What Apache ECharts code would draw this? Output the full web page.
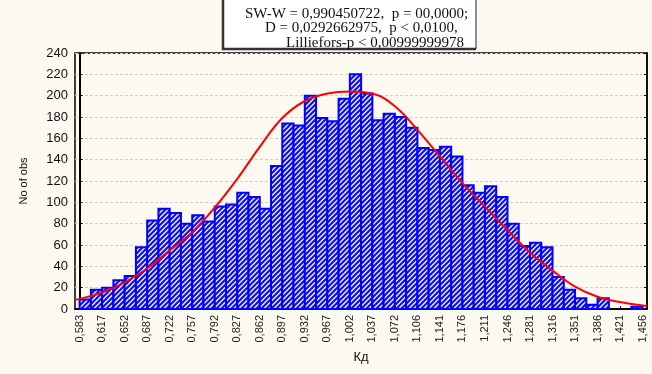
<!DOCTYPE html>
<html><head><meta charset="utf-8">
<script src="https://cdn.jsdelivr.net/npm/echarts@6/dist/echarts.min.js"></script>
<style>html,body{margin:0;padding:0;background:#fcf9f0}#c{width:652px;height:374px}</style>
</head><body><div id="c"></div>
<script>
// bin-edge tick labels (every second bin edge)
const tickLabels = ['0,583','0,617','0,652','0,687','0,722','0,757','0,792','0,827','0,862','0,897','0,932','0,967','1,002','1,037','1,072','1,106','1,141','1,176','1,211','1,246','1,281','1,316','1,351','1,386','1,421','1,456'];
// histogram counts for the 50 bins
const counts = [9,18,20,27,31,58,83,94,90,80,88,82,96,98,109,105,94,134,174,172,200,179,176,197,220,202,177,183,180,170,151,149,152,143,116,109,115,105,80,59,62,58,30,18,10,4,10,0,0,2];
// expected normal curve (x in bin-edge index units)
const curveX = [-0.41,0,2,4,6,8,10,12,14,16,18,20,22,24,26,28,30,32,34,36,38,40,42,44,46,48,50,50.39];
const curveY = [8.7,9.5,15.5,25,38,55,72,95,122,152,179,195,202,204,202,190,168,143,118,96,74,53,36,21,11.5,6.5,3.3,2.8];
const statLines = ['SW-W = 0,990450722,  p = 00,0000;','D = 0,0292662975,  p < 0,0100,','Lilliefors-p < 0,00999999978'];

const pc = document.createElement('canvas'); pc.width = 5; pc.height = 5;
const g = pc.getContext('2d');
g.fillStyle = '#f4f4ff'; g.fillRect(0,0,5,5);
g.strokeStyle = '#0a0aff'; g.lineWidth = 2.1;
g.beginPath(); g.moveTo(-1,6); g.lineTo(6,-1); g.stroke();
g.beginPath(); g.moveTo(-1,1); g.lineTo(1,-1); g.stroke();
g.beginPath(); g.moveTo(4,6); g.lineTo(6,4); g.stroke();
const hatch = {image: pc, repeat: 'repeat'};

const chart = echarts.init(document.getElementById('c'), null, {renderer:'canvas'});
const font = '"Liberation Sans", Arial, sans-serif';
const labelIdx = tickLabels.map((_, i) => i * 2);

chart.setOption({
  backgroundColor: '#fcf9f0',
  animation: false,
  grid: {left: 75, right: 5, top: 53, bottom: 65, show: true, borderColor: '#000', borderWidth: 1.5, backgroundColor: '#fcf9f0'},
  xAxis: {
    type: 'value', min: -0.41, max: 50.39,
    name: 'Кд', nameLocation: 'middle', nameGap: 41,
    nameTextStyle: {fontFamily: font, fontSize: 13, color: '#111'},
    axisLine: {lineStyle: {color: '#000', width: 2}},
    axisTick: {customValues: labelIdx, inside: true, length: 3, lineStyle: {color: '#000'}},
    axisLabel: {customValues: labelIdx, rotate: 90, fontFamily: font, fontSize: 11, color: '#222', margin: 6,
      formatter: v => tickLabels[Math.round(v / 2)]},
    splitLine: {show: false}
  },
  yAxis: [{
    type: 'value', min: 0, max: 240, interval: 20,
    name: 'No of obs', nameLocation: 'middle', nameGap: 46, nameRotate: 90,
    nameTextStyle: {fontFamily: font, fontSize: 11, color: '#111'},
    axisLine: {show: true, lineStyle: {color: '#000', width: 2}},
    axisTick: {inside: true, length: 3, lineStyle: {color: '#000'}},
    axisLabel: {fontFamily: font, fontSize: 13, color: '#111', margin: 7},
    splitLine: {show: true, lineStyle: {color: '#d0d0d0', type: [3,2], width: 1}}
  }, {
    type: 'value', min: 0, max: 240, interval: 20, position: 'right',
    axisLine: {show: true, lineStyle: {color: '#000', width: 1.5}},
    axisTick: {inside: true, length: 3, lineStyle: {color: '#000'}},
    axisLabel: {show: false}, splitLine: {show: false}
  }],
  series: [{
    type: 'custom',
    data: counts.map((c, i) => [i, c]),
    renderItem: (params, api) => {
      const i = api.value(0), v = api.value(1);
      if (v <= 0) return null;
      const p0 = api.coord([i, 0]);
      const p1 = api.coord([i + 1, v]);
      return {type: 'rect', shape: {x: p0[0], y: p1[1], width: p1[0] - p0[0], height: p0[1] - p1[1]},
        style: {fill: hatch, stroke: '#0000ff', lineWidth: 2}};
    },
    z: 2
  }, {
    type: 'line',
    data: curveX.map((x, i) => [x, curveY[i]]),
    smooth: 0.4, showSymbol: false,
    lineStyle: {color: '#ff0000', width: 2},
    z: 3
  }],
  graphic: [
    {type: 'rect', shape: {x: 223, y: -5, width: 253, height: 54}, style: {fill: '#ffffff', stroke: '#222', lineWidth: 1}, z: 10},
    {type: 'polyline', shape: {points: [[223, -5],[223, 49],[476, 49]]}, style: {stroke: '#333', lineWidth: 2.5, fill: null}, z: 11},
    {type: 'text', x: 245, y: 14, style: {text: statLines[0], font: '15px "Liberation Serif", serif', fill: '#111', verticalAlign: 'middle'}, z: 12},
    {type: 'text', x: 265, y: 28, style: {text: statLines[1], font: '15px "Liberation Serif", serif', fill: '#111', verticalAlign: 'middle'}, z: 12},
    {type: 'text', x: 286, y: 43, style: {text: statLines[2], font: '15px "Liberation Serif", serif', fill: '#111', verticalAlign: 'middle'}, z: 12}
  ]
});
</script>
</body></html>
